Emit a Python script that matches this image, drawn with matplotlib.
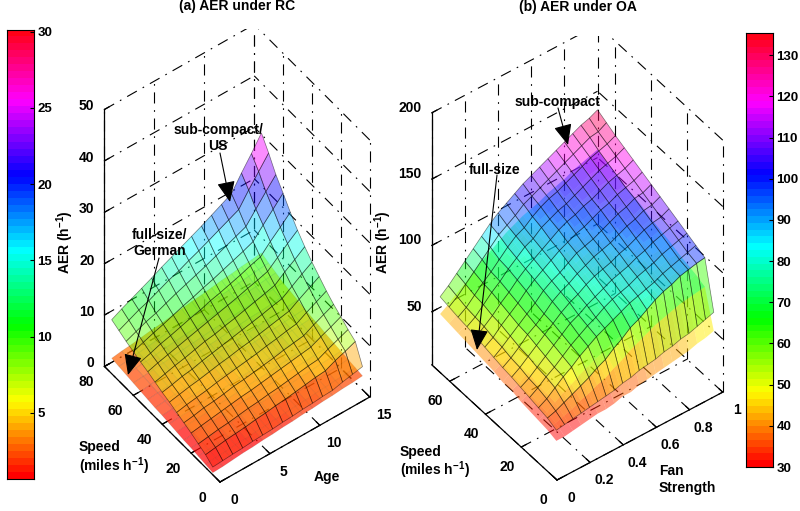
import numpy as np
import matplotlib
matplotlib.use('Agg')
import matplotlib.pyplot as plt
from matplotlib.colors import Normalize
from mpl_toolkits.mplot3d import proj3d

plt.rcParams['font.family'] = ['Liberation Sans', 'DejaVu Sans']
plt.rcParams['font.weight'] = 'bold'
plt.rcParams['font.size'] = 10
plt.rcParams['mathtext.default'] = 'regular'

W, H = 800, 511

# ---------- panel (a) ----------
rc_age = [0, 1, 2, 3, 4, 5, 6, 7, 8, 9, 10, 11, 12, 13, 14, 15]
rc_speed = [5, 10, 15, 20, 25, 30, 35, 40, 45, 50, 55, 60, 65, 70, 75]
rc_subcompact = [
    [1.5, 1.65, 1.8, 1.9, 2.1, 2.2, 2.3, 2.5, 2.6, 2.8, 2.9, 3.1, 3.2, 3.7, 4.1, 4.5],
    [2.5, 2.8, 3.1, 3.3, 3.5, 3.8, 4.0, 4.3, 4.5, 4.8, 5.1, 5.4, 5.6, 6.5, 7.2, 8.0],
    [3.2, 3.5, 3.8, 4.0, 4.3, 4.6, 4.8, 5.1, 5.3, 5.6, 5.9, 6.2, 6.4, 7.3, 8.1, 8.9],
    [3.9, 4.2, 4.5, 4.8, 5.1, 5.4, 5.6, 5.9, 6.2, 6.5, 6.8, 7.1, 7.4, 8.3, 9.1, 10],
    [4.5, 4.8, 5.2, 5.4, 5.7, 6.1, 6.3, 6.6, 6.9, 7.2, 7.6, 7.9, 8.2, 9.2, 10.1, 11],
    [5.1, 5.5, 5.8, 6.1, 6.5, 6.8, 7.1, 7.4, 7.7, 8.1, 8.4, 8.8, 9.1, 10.2, 11.2, 12.2],
    [5.7, 6.1, 6.5, 6.8, 7.2, 7.6, 7.9, 8.3, 8.6, 9, 9.4, 9.8, 10.2, 11.4, 12.5, 13.6],
    [6.2, 6.6, 7.1, 7.4, 7.9, 8.3, 8.7, 9.1, 9.5, 9.9, 10.3, 10.8, 11.2, 12.5, 13.8, 15],
    [6.8, 7.3, 7.8, 8.2, 8.7, 9.2, 9.5, 10, 10.4, 10.9, 11.4, 11.9, 12.4, 13.9, 15.2, 16.6],
    [7.4, 8, 8.5, 9, 9.5, 10, 10.5, 11, 11.5, 12, 12.6, 13.1, 13.7, 15.3, 16.9, 18.4],
    [7.9, 8.5, 9.2, 9.7, 10.3, 10.9, 11.4, 12.1, 12.6, 13.2, 13.8, 14.5, 15.1, 17, 18.7, 20.5],
    [8.5, 9.2, 9.9, 10.5, 11.2, 11.9, 12.5, 13.2, 13.8, 14.5, 15.2, 15.9, 16.7, 18.8, 20.8, 22.8],
    [9.1, 9.9, 10.7, 11.3, 12.1, 12.9, 13.6, 14.3, 15, 15.8, 16.6, 17.4, 18.2, 20.5, 22.8, 25],
    [9.8, 10.7, 11.6, 12.3, 13.2, 14.1, 14.8, 15.7, 16.5, 17.4, 18.3, 19.2, 20.1, 22.8, 25.3, 27.8],
    [10.5, 11.5, 12.4, 13.3, 14.2, 15.2, 16.1, 17, 17.9, 18.8, 19.8, 20.8, 21.8, 24.7, 27.4, 30.3],
]
rc_fullsize = [
    [.4, .5, .7, .9, 1, 1.2, 1.3, 1.5, 1.6, 1.8, 1.9, 2.1, 2.2, 2.4, 2.5, 2.7],
    [.6, .8, .9, 1.1, 1.2, 1.4, 1.5, 1.7, 1.8, 2, 2.1, 2.3, 2.4, 2.6, 2.7, 2.9],
    [.8, 1, 1.1, 1.3, 1.4, 1.6, 1.7, 1.9, 2, 2.2, 2.3, 2.5, 2.6, 2.8, 2.9, 3.1],
    [1, 1.2, 1.3, 1.5, 1.6, 1.8, 1.9, 2.1, 2.2, 2.4, 2.5, 2.7, 2.8, 3, 3.1, 3.3],
    [1.1, 1.3, 1.4, 1.6, 1.8, 1.9, 2.1, 2.2, 2.4, 2.5, 2.7, 2.9, 3, 3.2, 3.3, 3.5],
    [1.3, 1.5, 1.6, 1.8, 2, 2.1, 2.3, 2.4, 2.6, 2.7, 2.9, 3.1, 3.2, 3.4, 3.5, 3.7],
    [1.5, 1.7, 1.8, 2, 2.2, 2.3, 2.5, 2.7, 2.8, 3, 3.2, 3.3, 3.5, 3.7, 3.8, 4],
    [1.7, 1.9, 2, 2.2, 2.4, 2.5, 2.7, 2.9, 3, 3.2, 3.4, 3.6, 3.7, 3.9, 4, 4.2],
    [1.8, 2, 2.2, 2.4, 2.6, 2.7, 2.9, 3.1, 3.3, 3.5, 3.6, 3.8, 4, 4.2, 4.3, 4.5],
    [2, 2.2, 2.4, 2.6, 2.8, 3, 3.1, 3.3, 3.5, 3.7, 3.9, 4.1, 4.3, 4.4, 4.6, 4.8],
    [2.2, 2.4, 2.6, 2.8, 3, 3.2, 3.4, 3.6, 3.8, 4, 4.2, 4.4, 4.5, 4.7, 4.9, 5.1],
    [2.4, 2.6, 2.8, 3, 3.2, 3.4, 3.6, 3.8, 4, 4.2, 4.4, 4.6, 4.8, 5, 5.2, 5.4],
    [2.6, 2.8, 3, 3.2, 3.5, 3.7, 3.9, 4.1, 4.3, 4.6, 4.8, 5, 5.2, 5.4, 5.7, 5.9],
    [2.8, 3, 3.3, 3.5, 3.8, 4, 4.3, 4.5, 4.8, 5, 5.3, 5.5, 5.8, 6, 6.2, 6.4],
    [3, 3.3, 3.5, 3.8, 4.1, 4.3, 4.6, 4.9, 5.2, 5.4, 5.7, 6, 6.2, 6.5, 6.7, 7],
]
rc_z_ticks = [0, 10, 20, 30, 40, 50]
rc_speed_ticks = [0, 20, 40, 60, 80]
rc_age_ticks = [0, 5, 10, 15]
rc_cbar_ticks = [5, 10, 15, 20, 25, 30]

# ---------- panel (b) ----------
oa_fan = [.05, .1, .15, .2, .25, .3, .35, .4, .45, .5, .55, .6, .65, .7, .75, .8, .85, .9, .95, 1]
oa_speed = [5, 10, 15, 20, 25, 30, 35, 40, 45, 50, 55, 60, 65, 70]
oa_subcompact = [
    [38, 39, 40, 41, 42, 43, 44, 45, 47, 48, 50, 51, 52, 54, 55, 57, 58, 60, 62, 64],
    [41, 43, 46, 49, 52, 55, 59, 62, 67, 71, 76, 79, 83, 87, 90, 92, 95, 96.5, 98, 99],
    [42.5, 46, 51, 56, 60, 65, 69, 73, 76, 79, 82, 85, 87, 89, 91, 94, 96, 98, 100, 102],
    [44, 48, 53, 57, 62, 67, 71, 75, 78, 82, 85, 87, 89, 92, 94, 96, 99, 101, 103, 105],
    [45.5, 49, 54, 59, 64, 69, 74, 77, 81, 84, 87, 90, 92, 94, 97, 99, 102, 104, 106, 108],
    [47, 51, 56, 61, 66, 71, 76, 80, 83, 87, 90, 92, 94, 97, 99, 102, 105, 107, 108, 111],
    [48, 52, 57, 63, 67, 72, 78, 82, 85, 89, 92, 95, 97, 99, 102, 105, 107, 110, 111, 114],
    [49.5, 54, 59, 64, 69, 74, 80, 84, 87, 91, 95, 97, 99, 102, 105, 108, 110, 113, 114, 117],
    [51, 55, 61, 66, 71, 77, 82, 86, 90, 94, 97, 100, 102, 105, 108, 110, 113, 115, 117, 120],
    [52.5, 57, 62, 68, 73, 79, 84, 88, 92, 96, 100, 103, 105, 108, 110, 113, 116, 118, 120, 123],
    [54, 58, 64, 70, 75, 81, 86, 91, 94, 99, 102, 105, 107, 110, 113, 116, 119, 121, 123, 126],
    [55, 59, 65, 71, 76, 82, 88, 93, 96, 101, 105, 108, 110, 113, 116, 119, 122, 124, 126, 129],
    [56.5, 61, 67, 73, 79, 85, 91, 95, 99, 104, 107, 110, 113, 116, 119, 122, 125, 128, 129, 132.5],
    [58, 63, 69, 75, 81, 87, 93, 98, 102, 106, 110, 113, 116, 119, 122, 125, 128, 131, 133, 136],
]
oa_fullsize = [
    [30, 30, 31, 32, 33, 34, 34, 35, 37, 37, 39, 40, 41, 42, 43, 44, 45, 47, 48, 50],
    [32, 34, 36, 38, 41, 43, 46, 48, 52, 55, 59, 62, 65, 68, 70, 72, 74, 75, 76, 77],
    [33, 36, 40, 44, 47, 51, 54, 57, 59, 62, 64, 66, 68, 69, 71, 73, 75, 76, 78, 80],
    [34, 37, 41, 44, 48, 52, 55, 58, 61, 64, 66, 68, 69, 72, 73, 75, 77, 79, 80, 82],
    [35, 38, 42, 46, 50, 54, 58, 60, 63, 66, 68, 70, 72, 73, 76, 77, 80, 81, 83, 84],
    [37, 40, 44, 48, 51, 55, 59, 62, 65, 68, 70, 72, 73, 76, 77, 80, 82, 83, 84, 87],
    [37, 41, 44, 49, 52, 56, 61, 64, 66, 69, 72, 74, 76, 77, 80, 82, 83, 86, 87, 89],
    [39, 42, 46, 50, 54, 58, 62, 66, 68, 71, 74, 76, 77, 80, 82, 84, 86, 88, 89, 91],
    [40, 43, 48, 51, 55, 60, 64, 67, 70, 73, 76, 78, 80, 82, 84, 86, 88, 90, 91, 94],
    [41, 44, 48, 53, 57, 62, 66, 69, 72, 75, 78, 80, 82, 84, 86, 88, 90, 92, 94, 96],
    [42, 45, 50, 55, 58, 63, 67, 71, 73, 77, 80, 82, 83, 86, 88, 90, 93, 94, 96, 98],
    [43, 46, 51, 55, 59, 64, 69, 73, 75, 79, 82, 84, 86, 88, 90, 93, 95, 97, 98, 101],
    [44, 48, 52, 57, 62, 66, 71, 74, 77, 81, 83, 86, 88, 90, 93, 95, 97, 100, 101, 103],
    [45, 49, 54, 58, 63, 68, 72, 76, 80, 83, 86, 88, 90, 93, 95, 97, 100, 102, 104, 106],
]
oa_z_ticks = [50, 100, 150, 200]
oa_speed_ticks = [0, 20, 40, 60]
oa_fan_ticks = [0, .2, .4, .6, .8, 1]
oa_cbar_ticks = [30, 40, 50, 60, 70, 80, 90, 100, 110, 120, 130]

fig = plt.figure(figsize=(W / 100, H / 100), dpi=100, facecolor='white')
hsv64 = plt.get_cmap('hsv', 64)


def to_px(ax, x, y, z):
    px, py, _ = proj3d.proj_transform(x, y, z, ax.get_proj())
    dx, dy = ax.transData.transform((px, py))
    return dx, H - dy


def set_square(ax, side, cx, cy):
    ax.set_position([(cx - side / 2) / W, 1 - (cy + side / 2) / H, side / W, side / H])
    ax.apply_aspect()


def fit_axes(ax, origin_px, height_px, xlim, ylim, zlim):
    # origin_px: where (xlim[0], ylim[0], zlim[0]) has to land, height_px: length of the z axis
    side, cx, cy = 400, W / 2, H / 2
    set_square(ax, side, cx, cy)
    h = to_px(ax, xlim[0], ylim[0], zlim[0])[1] - to_px(ax, xlim[0], ylim[0], zlim[1])[1]
    side = side * height_px / h
    set_square(ax, side, cx, cy)
    ox, oy = to_px(ax, xlim[0], ylim[0], zlim[0])
    set_square(ax, side, cx + origin_px[0] - ox, cy + origin_px[1] - oy)


def draw_box(ax, xlim, ylim, zlim, xticks, yticks, zticks):
    x0, x1 = xlim
    y0, y1 = ylim
    z0, z1 = zlim
    grid = dict(color='k', lw=0.8, ls=(0, (10, 6, 1.5, 6)), zorder=1)
    solid = dict(color='k', lw=0.9, zorder=1)
    for z in zticks:
        ax.plot([x0, x1], [y1, y1], [z, z], **grid)
        ax.plot([x1, x1], [y0, y1], [z, z], **grid)
        ax.plot([x0, x0 + .03 * (x1 - x0)], [y1, y1], [z, z], **solid)
    for x in xticks:
        ax.plot([x, x], [y1, y1], [z0, z1], **grid)
        ax.plot([x, x], [y0, y1], [z0, z0], **grid)
        ax.plot([x, x], [y0, y0 + .03 * (y1 - y0)], [z0, z0], **solid)
    for y in yticks:
        ax.plot([x1, x1], [y, y], [z0, z1], **grid)
        ax.plot([x0, x1], [y, y], [z0, z0], **grid)
        ax.plot([x0, x0 + .03 * (x1 - x0)], [y, y], [z0, z0], **solid)
    ax.plot([x0, x0], [y1, y1], [z0, z1], **solid)
    ax.plot([x0, x0], [y0, y1], [z0, z0], **solid)
    ax.plot([x0, x1], [y0, y0], [z0, z0], **solid)


def draw_surface(ax, xs, ys, zs, norm, alpha, edge, order):
    X, Y = np.meshgrid(xs, ys)
    Z = np.array(zs, dtype=float)
    cols = hsv64(norm(Z))
    cols[..., 3] = alpha
    surf = ax.plot_surface(X, Y, Z, facecolors=cols, rstride=1, cstride=1, shade=False,
                           linewidth=0.5, zorder=order)
    surf.set_edgecolor(edge)


def panel(rect_view, aspect, xs, ys, z_low, z_high, norm, xlim, ylim, zlim,
          xticks, yticks, zticks, low_alpha, low_edge):
    ax = fig.add_axes([0, 0, 1, 1], projection='3d', proj_type='ortho', computed_zorder=False)
    ax.set_facecolor('none')
    ax.patch.set_visible(False)
    ax.set_axis_off()
    ax.view_init(elev=rect_view[0], azim=rect_view[1])
    ax.set_box_aspect(aspect)
    draw_box(ax, xlim, ylim, zlim, xticks, yticks, zticks)
    draw_surface(ax, xs, ys, z_low, norm, low_alpha, low_edge, 2)
    draw_surface(ax, xs, ys, z_high, norm, 0.45, (0, 0, 0, 0.5), 3)
    ax.set_xlim(xlim)
    ax.set_ylim(ylim)
    ax.set_zlim(zlim)
    return ax


def colorbar(left, right, top, bottom, vmin, vmax, ticks):
    cax = fig.add_axes([left / W, 1 - bottom / H, (right - left) / W, (bottom - top) / H])
    levels = np.linspace(vmin, vmax, 64)[:, None]
    cax.imshow(levels, extent=[0, 1, vmin, vmax], origin='lower', aspect='auto',
               cmap=hsv64, vmin=vmin, vmax=vmax, interpolation='nearest')
    cax.set_xticks([])
    cax.yaxis.tick_right()
    cax.set_yticks(ticks)
    cax.tick_params(axis='y', direction='in', length=3, width=0.8, pad=2.5, labelsize=9.5)
    for s in cax.spines.values():
        s.set_linewidth(0.8)


# (a)
rc_norm = Normalize(0.66, 30.1)
ax_a = panel((48.9, -127), (187.5, 192, 391), rc_age, rc_speed, rc_fullsize, rc_subcompact, rc_norm,
             (0, 15), (0, 80), (0, 50), rc_age_ticks, rc_speed_ticks, rc_z_ticks, 0.7, (0, 0, 0, 0.1))
fit_axes(ax_a, (220, 482), 257, (0, 15), (0, 80), (0, 50))
colorbar(7, 34, 30, 479, 0.66, 30.1, rc_cbar_ticks)

# (b)
oa_norm = Normalize(30, 135.4)
ax_b = panel((44.3, -127.2), (208, 207, 352), oa_fan, oa_speed, oa_fullsize, oa_subcompact, oa_norm,
             (0, 1), (0, 70), (10, 200), oa_fan_ticks, oa_speed_ticks, oa_z_ticks, 0.5, 'none')
fit_axes(ax_b, (557, 480), 252, (0, 1), (0, 70), (10, 200))
colorbar(746, 773, 33, 467, 30, 135.4, oa_cbar_ticks)

# everything else is placed in pixels on a transparent layer
top = fig.add_axes([0, 0, 1, 1], zorder=10)
top.set_xlim(0, W)
top.set_ylim(H, 0)
top.axis('off')


def tick_text(ax, ticks, anchor, dx, dy, ha='center'):
    for t in ticks:
        px, py = to_px(ax, *anchor(t))
        top.text(px + dx, py + dy, f'{t:g}', ha=ha, va='center')


tick_text(ax_a, rc_z_ticks, lambda t: (0, 80, t), -10, -3, ha='right')
tick_text(ax_a, rc_speed_ticks, lambda t: (0, t, 0), -18, 16)
tick_text(ax_a, rc_age_ticks, lambda t: (t, 0, 0), 14, 18)
tick_text(ax_b, oa_z_ticks, lambda t: (0, 70, t), -10, -5, ha='right')
tick_text(ax_b, oa_speed_ticks, lambda t: (0, t, 10), -14, 20)
tick_text(ax_b, oa_fan_ticks, lambda t: (t, 0, 10), 14, 18)

top.text(237, 6, '(a) AER under RC', ha='center', va='center')
top.text(578, 7, '(b) AER under OA', ha='center', va='center')
top.text(65, 242, 'AER (h$^{-1}$)', rotation=90, ha='center', va='center')
top.text(383, 242, 'AER (h$^{-1}$)', rotation=90, ha='center', va='center')
top.text(79, 447, 'Speed', va='center')
top.text(79, 466, '(miles h$^{-1}$)', va='center')
top.text(400, 452, 'Speed', va='center')
top.text(400, 470, '(miles h$^{-1}$)', va='center')
top.text(327, 477, 'Age', ha='center', va='center')
top.text(659, 471, 'Fan', va='center')
top.text(659, 488, 'Strength', va='center')

notes = [
    ('sub-compact/\nUS', (218, 138), (220, 153), (230, 202)),
    ('full-size/\nGerman', (160, 243), (159, 258), (128, 375)),
    ('sub-compact', (558, 102), (558, 108), (568, 145)),
    ('full-size', (495, 170), (497, 175), (477, 350)),
]
for label, pos, start, tip in notes:
    top.text(pos[0], pos[1], label, ha='center', va='center', linespacing=1.2)
    top.annotate('', xy=tip, xytext=start,
                 arrowprops=dict(arrowstyle='-|>,head_length=0.8,head_width=0.35', mutation_scale=16,
                                 lw=0.8, color='k', shrinkA=0, shrinkB=0))

fig.savefig('out.png', dpi=100, facecolor='white')
